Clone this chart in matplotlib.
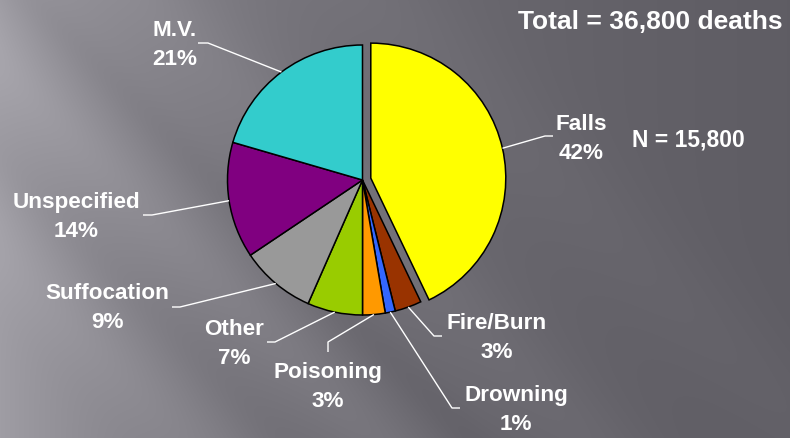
import numpy as np
import matplotlib
matplotlib.use("Agg")
import matplotlib.pyplot as plt

# data
categories = ["Falls", "Fire/Burn", "Drowning", "Poisoning", "Other",
              "Suffocation", "Unspecified", "M.V."]
shares = [42.9, 3.2, 1.2, 2.7, 6.6, 9.0, 13.9, 20.5]
pct_labels = ["42%", "3%", "1%", "3%", "7%", "9%", "14%", "21%"]
colors = ["#FFFF00", "#993300", "#3366FF", "#FF9900", "#99CC00",
          "#999999", "#800080", "#33CCCC"]
total_text = "Total = 36,800 deaths"
falls_n_text = "N = 15,800"

W, H = 790, 438
plt.rcParams['font.family'] = ['Liberation Sans', 'DejaVu Sans']

fig = plt.figure(figsize=(W / 100, H / 100), dpi=100)
ax = fig.add_axes([0, 0, 1, 1])

# slide background: grey gradient with diagonal streaks
xx, yy = np.meshgrid(np.arange(W), np.arange(H))
base = 90 + 70 * np.exp(-xx / 320.0)
d = xx - yy
streaks = (8 * np.exp(-((d + 60) / 45.0) ** 2) + 6 * np.exp(-((d - 150) / 60.0) ** 2)
           + 6 * np.exp(-((d + 250) / 50.0) ** 2) + 4 * np.exp(-((d - 380) / 70.0) ** 2)
           - 5 * np.exp(-((d - 30) / 30.0) ** 2) - 4 * np.exp(-((d + 160) / 35.0) ** 2))
v = base + streaks
bg = np.dstack([v - 1, v - 3, v + 4]) / 255.0
bg = np.clip(bg, 0, 1)
ax.imshow(bg, extent=(0, W, 0, H), origin="upper", zorder=0)

cx, cy, r = 362.5, H - 180, 135
explode = [8.5] + [0] * (len(shares) - 1)   # pie uses data units here (pixels)
wedges, _ = ax.pie(shares, colors=colors, startangle=90, counterclock=False,
                   center=(cx, cy), radius=r, explode=explode,
                   wedgeprops=dict(edgecolor="black", linewidth=1.1))
for w in wedges:
    w.set_zorder(2)

# label layout (pixel positions, y measured from top): text centre, elbow, line end
label_pos = [(581, 139), (497, 338), (516, 410), (328, 387),
             (234, 344), (107, 308), (76, 217), (175, 45)]
elbows = [(545, 136), (434, 336), (452, 408), (328, 342),
          (275, 342), (180, 307), (152, 215), (208, 43)]
ends = [(553, 136), (442, 336), (460, 408), (328, 352),
        (267, 342), (172, 307), (143, 215), (198, 43)]

for w, name, pct, tp, ep, en in zip(wedges, categories, pct_labels, label_pos, elbows, ends):
    ang = np.deg2rad((w.theta1 + w.theta2) / 2)
    wx = w.center[0] + w.r * np.cos(ang)
    wy = w.center[1] + w.r * np.sin(ang)
    ax.plot([wx, ep[0], en[0]], [wy, H - ep[1], H - en[1]], color="white",
            lw=1.0, zorder=3, solid_capstyle="butt")
    ax.text(tp[0], H - tp[1], name + "\n" + pct, color="white", fontsize=16.2,
            fontweight="bold", ha="center", va="center", linespacing=1.5, zorder=4)

ax.text(650, H - 22, total_text, color="white", fontsize=19, fontweight="bold",
        ha="center", va="center", zorder=4)
ax.text(688, H - 140, falls_n_text, color="white", fontsize=16.5, fontweight="bold",
        ha="center", va="center", zorder=4)

ax.set_xlim(0, W)
ax.set_ylim(0, H)
ax.set_aspect("auto")
ax.axis("off")

fig.savefig("out.png", dpi=100)
